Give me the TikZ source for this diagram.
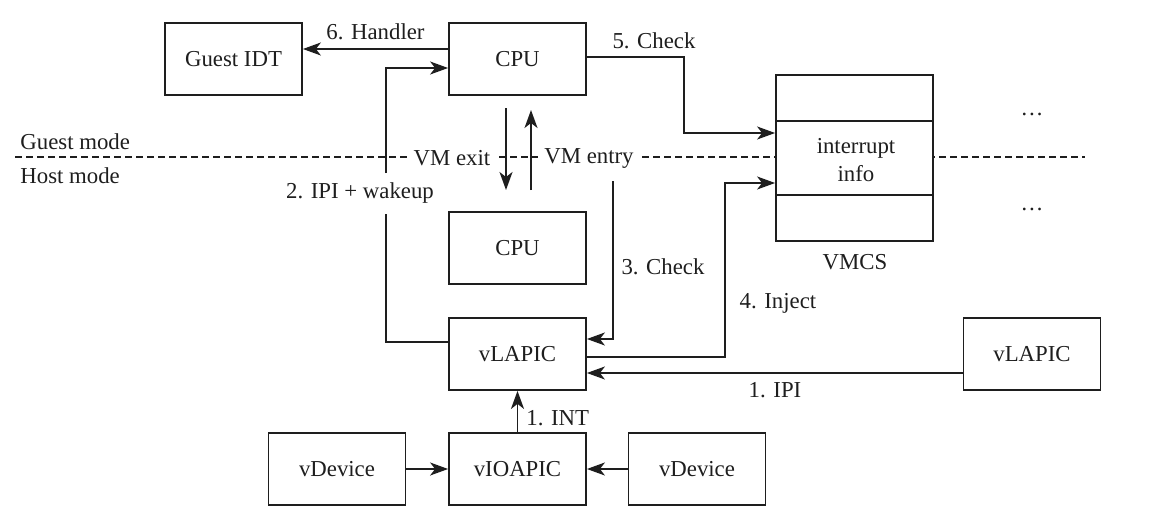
\documentclass[tikz,border=0pt]{standalone}
\usepackage{fontspec}
\setmainfont{Liberation Serif}
\usetikzlibrary{arrows.meta,calc}
\definecolor{ink}{RGB}{30,30,30}
\begin{document}
\begin{tikzpicture}[x=0.5pt,y=-0.5pt,
  font=\fontsize{11.4}{14}\selectfont,
  box/.style={draw=ink,line width=0.9pt,minimum width=68.5pt,minimum height=36pt,inner sep=0pt,fill=white,text=ink},
  conn/.style={draw=ink,line width=0.9pt},
  arr/.style={conn,-{Stealth[length=9pt,width=6.5pt,inset=2.5pt]}},
  lbl/.style={text=ink,inner sep=1pt},
  cut/.style={lbl,fill=white,inner xsep=3pt}]
\useasboundingbox (0,0) rectangle (1152,520);
% mode separator
\draw[ink,line width=0.7pt,dash pattern=on 3.5pt off 2pt] (15,157) coordinate (dl) -- (1085,157) coordinate (dr);
\node[lbl,anchor=west] (gm) at (18,142) {Guest mode};
\node[lbl,anchor=west] (hm) at (18,176) {Host mode};
% nodes
\node[box] (gidt) at (233.5,59) {Guest IDT};
\node[box] (cpu1) at (517.5,59) {CPU};
\node[box] (cpu2) at (517.5,248) {CPU};
\node[box] (vlapic) at (517.5,354) {vLAPIC};
\node[box] (vioapic) at (517.5,469) {vIOAPIC};
\node[box] (vdev1) at (337,469) {vDevice};
\node[box] (vdev2) at (697,469) {vDevice};
\node[box] (vlapic2) at (1032,354) {vLAPIC};
\node[box,minimum width=78.5pt,minimum height=83pt] (vmcs) at (854.5,158) {};
\draw[conn] ($(vmcs.north west)+(0,47)$) -- ($(vmcs.north east)+(0,47)$);
\draw[conn] ($(vmcs.south west)+(0,-47)$) -- ($(vmcs.south east)+(0,-47)$);
\node[lbl,align=center] (ii) at (856,160) {interrupt\\info};
\node[lbl] (vmcsl) at (855,262) {VMCS};
\node[lbl] (dots1) at (1032,114) {…};
\node[lbl] (dots2) at (1032,209) {…};
% VM exit / entry
\coordinate (exT) at (506,108);
\coordinate (exB) at (506,190);
\coordinate (enB) at (531,190);
\coordinate (enT) at (531,110);
\draw[arr] (exT) -- (exB);
\draw[arr] (enB) -- (enT);
\node[cut] (vmexit) at (452,158) {VM exit};
\node[cut] (vmentry) at (589,158) {VM entry};
% 6. Handler
\draw[arr] ($(cpu1.west)+(0,-10)$) -- node[lbl,above=3pt] {6. Handler} ($(gidt.east)+(0,-10)$);
% 2. IPI + wakeup
\coordinate (w1) at (386,342);
\coordinate (w2) at (386,214);
\coordinate (w3) at (386,173);
\coordinate (w4) at (386,68);
\draw[conn] ($(vlapic.west)+(0,-12)$) -- (w1) -- (w2);
\draw[arr] (w3) -- (w4) -- ($(cpu1.west)+(0,9)$);
\node[lbl] (ipiw) at (360,193) {2. IPI + wakeup};
% 5. Check
\coordinate (c5) at (684,57);
\draw[arr] ($(cpu1.east)+(0,-2)$) -- (c5) -- (684,133) -- (vmcs.west |- 0,133);
\node[lbl] (l5) at (654,41) {5. Check};
% 3. Check
\coordinate (c3) at (613,181);
\draw[arr] (c3) -- (613,339) -- (vlapic.east |- 0,339);
\node[lbl] (l3) at (663,267) {3. Check};
% 4. Inject
\draw[arr] (vlapic.east |- 0,357) -- (725,357) -- (725,183) -- (vmcs.west |- 0,183);
\node[lbl] (l4) at (778,303) {4. Inject};
% 1. IPI
\draw[arr] (vlapic2.west |- 0,373) -- (vlapic.east |- 0,373);
\node[lbl] (l1) at (775,390) {1. IPI};
% 1. INT
\draw[arr] (vioapic.north) -- (vlapic.south);
\node[lbl,anchor=west] (lint) at (524,418) {1. INT};
% devices
\draw[arr] (vdev1.east) -- (vioapic.west);
\draw[arr] (vdev2.west) -- (vioapic.east);
\end{tikzpicture}
\end{document}
